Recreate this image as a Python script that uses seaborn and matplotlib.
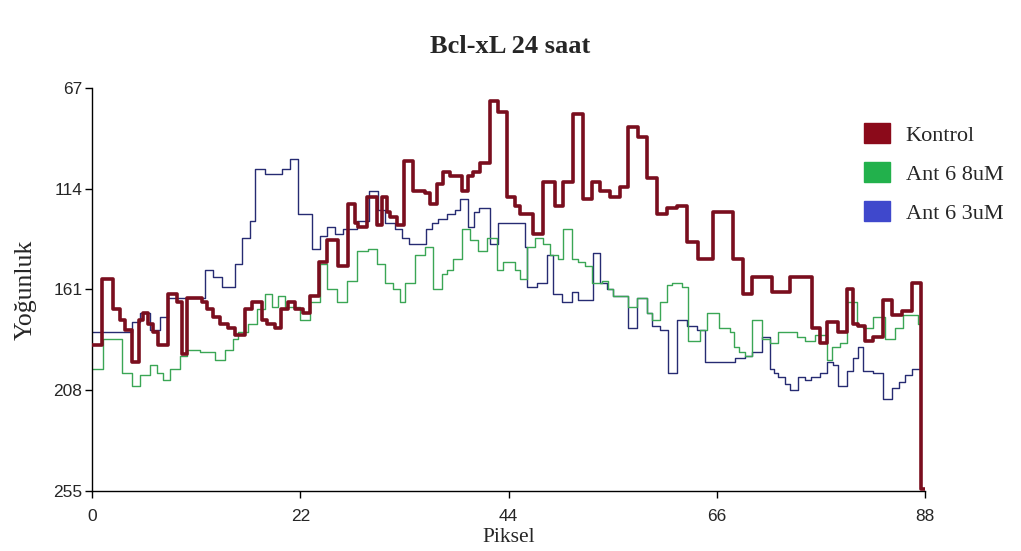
import matplotlib
matplotlib.use('Agg')
import matplotlib.pyplot as plt
import matplotlib.patches as mpatches
import seaborn as sns
import pandas as pd

# veriler: kirilma noktalari (piksel) ve yogunluk degerleri
kontrol_x = [0, 1.1, 2.2, 3, 3.5, 4.2, 5, 5.4, 5.9, 6.4, 7, 8, 9, 9.5, 10, 11.6, 12.1, 12.8,
             13.5, 14.4, 15.1, 16.2, 16.9, 18, 18.5, 19.3, 20, 20.7, 21.4, 22.3, 23, 24, 24.8,
             26, 27, 27.8, 28.1, 29, 30.1, 30.6, 31.2, 31.5, 32.2, 33, 33.9, 35.2, 35.7, 36.4,
             37.1, 37.8, 39.1, 39.7, 40.2, 41, 42, 42.9, 43.8, 44.7, 45.2, 46.6, 47.6, 48.9,
             49.8, 50.8, 51.9, 52.8, 53.7, 54.7, 55.8, 56.6, 57.7, 58.6, 59.7, 60.7, 61.8, 62.9,
             64, 65.6, 67.7, 68.8, 69.7, 71.8, 73.7, 76.1, 76.9, 77.6, 78.8, 79.8, 80.4, 80.9,
             81.7, 82.5, 83.6, 84.5, 85.6, 86.6, 87.6, 88]
kontrol_y = [187, 156, 170, 175, 180, 195, 175, 172, 177, 181, 187, 163, 167, 191, 165, 167, 170, 174,
             177, 179, 182, 170, 167, 175, 177, 179, 170, 167, 170, 172, 164, 148, 138,
             150, 121, 130, 132, 118, 131, 118, 125, 127, 131, 101, 115, 116, 121, 112,
             106, 108, 115, 108, 106, 102, 73, 78, 118, 122, 126, 135, 111, 122,
             111, 79, 119, 111, 115, 118, 113, 85, 90, 109, 126, 123, 122, 139,
             147, 125, 147, 163, 155, 162, 155, 179, 186, 176, 181, 161, 177, 178,
             185, 183, 166, 173, 171, 158, 254, 254]

ant8_x = [0, 1.2, 3.2, 4.2, 5.1, 6.1, 6.9, 7.5, 8.2, 9.3, 10, 11.4, 13, 14, 14.9, 15.4, 16.5,
          17.4, 18.3, 19, 19.6, 20.4, 21.2, 22, 23, 24.1, 24.8, 25.9, 26.9, 28, 29.2, 30.1, 31,
          31.8, 32.5, 33.1, 34.1, 35.2, 36, 37, 37.5, 38.1, 39.1, 39.9, 40.8, 41.7, 42.8, 43.4,
          44.7, 45.2, 46, 46.8, 47.6, 48.4, 49.2, 49.8, 50.7, 51.3, 52.1, 52.8, 53.9, 54.5, 55,
          56.6, 57.6, 58.6, 59.2, 60, 60.7, 61.3, 62.3, 63, 64.2, 65, 66.2, 67.4, 67.8, 68.3, 69,
          69.7, 70.8, 71.6, 72.5, 74.5, 75.3, 76.4, 77.6, 78.2, 79, 79.8, 80.8, 81.4, 82.5, 83.8,
          84.8, 85.7, 87.3, 87.5]
ant8_y = [198, 184, 200, 206, 201, 196, 200, 203, 198, 192, 189, 190, 194, 189, 184, 181, 177,
          170, 163, 169, 164, 169, 169, 175, 167, 149, 161, 167, 157, 143, 142, 149, 158,
          161, 167, 158, 145, 141, 161, 154, 152, 147, 133, 138, 143, 137, 152, 148,
          152, 156, 141, 137, 140, 145, 147, 133, 147, 148, 150, 158, 157, 161, 164,
          169, 165, 172, 175, 167, 159, 158, 160, 185, 180, 172, 179, 181, 188, 190, 192,
          175, 184, 186, 181, 183, 185, 182, 194, 188, 186, 167, 178, 179, 174, 184,
          179, 173, 177, 177]

ant3_x = [0, 4.2, 5.1, 6.1, 7.2, 8, 11.9, 12.8, 13.7, 15.1, 15.8, 16.7, 17.2, 18.3, 20.1, 20.9,
          21.8, 23.2, 24.1, 24.8, 25.7, 26.5, 28, 29.3, 30.2, 30.9, 32, 32.8, 33.5, 35.3, 35.9,
          36.6, 37.5, 38.3, 38.9, 39.7, 40.4, 40.9, 42, 42.9, 45.7, 46, 47, 48.1, 48.7, 49.7,
          50.7, 51.3, 52.9, 53.7, 54.4, 55, 56.6, 57.6, 58.6, 59.2, 60, 60.8, 61.8, 62.9, 63.9,
          64.8, 67.9, 69, 69.7, 70.8, 71.6, 72, 72.5, 73.2, 73.7, 74.6, 75.3, 76, 76.9, 77.6,
          78.3, 78.8, 79.8, 80.4, 80.9, 81.4, 82.5, 83.6, 84.5, 85.2, 85.9, 86.6, 87.5]
ant3_y = [181, 176, 172, 180, 174, 165, 152, 155, 160, 149, 137, 129, 105, 107, 105, 100,
          126, 142, 136, 132, 135, 133, 129, 115, 124, 130, 133, 137, 140, 133, 130,
          128, 126, 124, 119, 132, 125, 123, 140, 130, 141, 160, 158, 145, 163, 167,
          162, 166, 144, 158, 161, 164, 179, 165, 172, 178, 180, 200, 175, 178, 180,
          195, 193, 192, 190, 183, 198, 200, 202, 205, 208, 202, 203, 202, 200, 195,
          196, 206, 199, 193, 188, 199, 200, 212, 207, 204, 201, 198, 198]

seriler = ['Kontrol', 'Ant 6 8uM', 'Ant 6 3uM']
cizgi_renk = ['#7a0e1e', '#3aa655', '#262b72']
kutu_renk = ['#8b0a1a', '#22b14c', '#3f48cc']
cizgi_kalinlik = [2.6, 1.0, 1.0]

sns.set_style('white')
plt.rcParams['font.family'] = ['Liberation Serif', 'DejaVu Serif']

fig = plt.figure(figsize=(10.21, 5.51), dpi=100)
ax = fig.add_axes([0.0901, 0.1089, 0.8159, 0.7314])

veri = [(kontrol_x, kontrol_y), (ant8_x, ant8_y), (ant3_x, ant3_y)]
for i in range(len(seriler)):
    df = pd.DataFrame({'x': veri[i][0], 'y': veri[i][1]})
    sns.lineplot(data=df, x='x', y='y', ax=ax, color=cizgi_renk[i],
                 linewidth=cizgi_kalinlik[i], drawstyle='steps-post', zorder=3 - i)

ax.set_xlim(0, 88)
ax.set_ylim(255, 67)
ax.set_xticks([0, 22, 44, 66, 88])
ax.set_yticks([67, 114, 161, 208, 255])
for lab in ax.get_xticklabels() + ax.get_yticklabels():
    lab.set_fontfamily('Liberation Sans')
    lab.set_fontsize(12.5)
ax.tick_params(axis='x', pad=8)
ax.tick_params(axis='y', pad=2)
ax.tick_params(axis='both', which='both', direction='out', length=5, width=1,
               color='black', left=True, bottom=True)
for s in ['top', 'right']:
    ax.spines[s].set_visible(False)
for s in ['left', 'bottom']:
    ax.spines[s].set_color('black')
    ax.spines[s].set_linewidth(1)

ax.set_xlabel('Piksel', fontsize=15.5, labelpad=3)
ax.set_ylabel('Yoğunluk', fontsize=18.5, labelpad=12)
fig.text(0.5, 0.916, 'Bcl-xL 24 saat', ha='center', va='center',
         fontsize=19, fontweight='bold')

tutamac = [mpatches.Patch(color=kutu_renk[i], label=seriler[i]) for i in range(len(seriler))]
fig.legend(handles=tutamac, loc='upper left', bbox_to_anchor=(0.838, 0.793),
           frameon=False, fontsize=16, handlelength=1.15, handleheight=1.0,
           labelspacing=0.75, handletextpad=0.7, borderaxespad=0)

fig.savefig('out.png', dpi=100)
